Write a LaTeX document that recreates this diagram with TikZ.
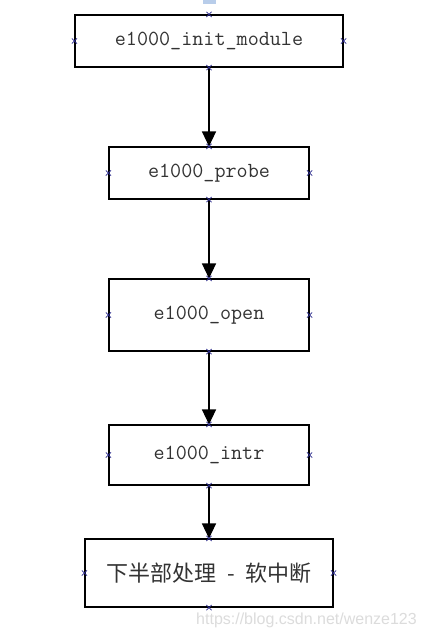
\documentclass[tikz,border=0pt]{standalone}
\usepackage{fontspec}
\newfontfamily\cjk{Noto Sans CJK SC}
\newfontfamily\wmfont{Liberation Sans}
\usetikzlibrary{arrows.meta,shapes.misc}
\definecolor{txt}{HTML}{333333}
\definecolor{mark}{HTML}{2A2A8C}
\definecolor{wm}{HTML}{DCDCDC}
\definecolor{topblue}{HTML}{B8CDEA}
\tikzset{
  box/.style={draw=black, line width=1.1pt, rectangle, inner sep=0pt, text=txt,
    font=\ttfamily\fontsize{21.5}{24}\selectfont},
  arr/.style={draw=black, line width=1.3pt, -{Triangle[length=15pt,width=14pt]}},
  xmark/.style={cross out, draw=mark, line width=0.7pt, minimum size=4.5pt, inner sep=0pt}
}
\begin{document}
\begin{tikzpicture}[x=1pt,y=-1pt]
\useasboundingbox (0,0) rectangle (427,637);
\fill[white] (0,0) rectangle (427,637);
\fill[topblue] (203,0) rectangle (216,4);
\node[box, minimum width=268pt, minimum height=52pt] (n1) at (209,41) {e1000\_init\_module};
\node[box, minimum width=200pt, minimum height=52pt] (n2) at (209,173) {e1000\_probe};
\node[box, minimum width=200pt, minimum height=72pt] (n3) at (209,315) {e1000\_open};
\node[box, minimum width=200pt, minimum height=60pt] (n4) at (209,455) {e1000\_intr};
\node[box, minimum width=248pt, minimum height=68pt, font=\cjk\fontsize{22}{26}\selectfont] (n5) at (209,573) {下半部处理\hspace{11pt}-\hspace{11pt}软中断};
\draw[arr] (n1.south) -- (n2.north);
\draw[arr] (n2.south) -- (n3.north);
\draw[arr] (n3.south) -- (n4.north);
\draw[arr] (n4.south) -- (n5.north);
\foreach \n in {n1,n2,n3,n4,n5}{
  \foreach \a in {north,south,east,west}{
    \node[xmark] at (\n.\a) {};
  }
}
\node[text=wm, font=\wmfont\fontsize{16}{18}\selectfont, anchor=east, inner sep=0pt] (wmk) at (417,620) {https://blog.csdn.net/wenze123};
\end{tikzpicture}
\end{document}
